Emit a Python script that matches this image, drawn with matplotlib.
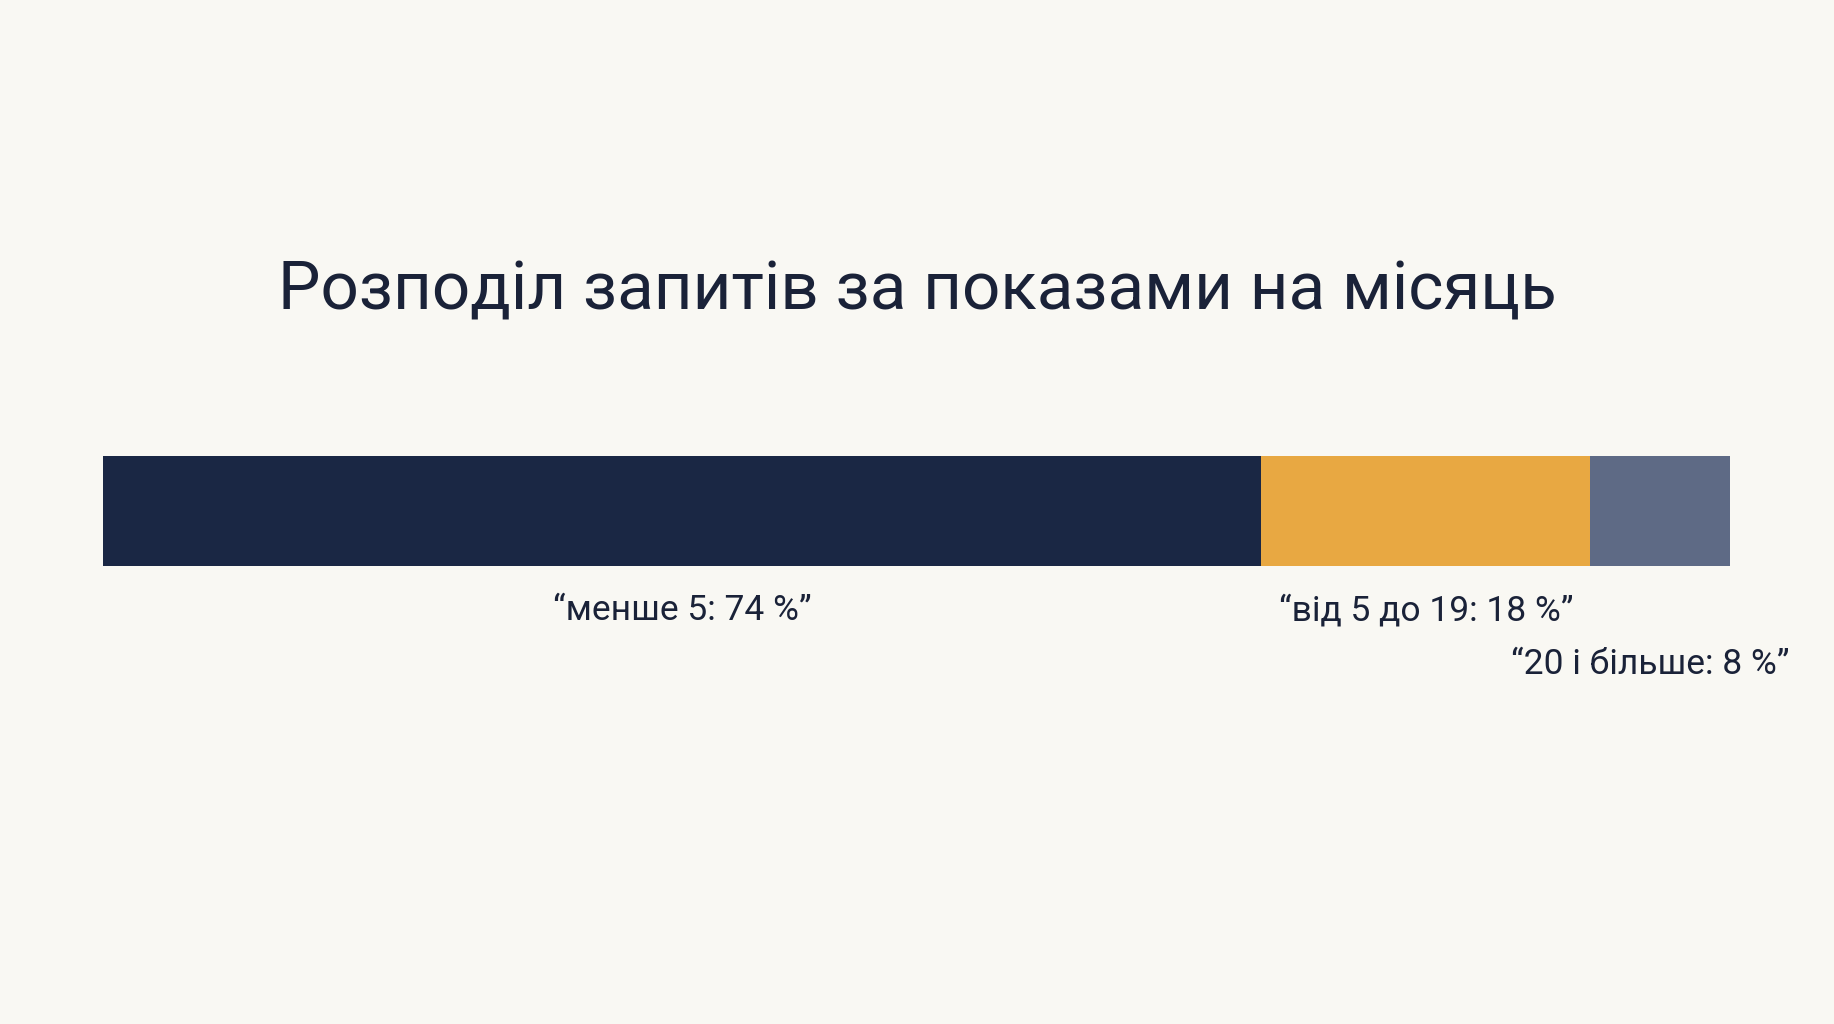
import matplotlib
matplotlib.use("Agg")
import matplotlib.pyplot as plt

plt.rcParams['font.family'] = ['Roboto', 'DejaVu Sans']

title = "Розподіл запитів за показами на місяць"
categories = ["менше 5", "від 5 до 19", "20 і більше"]
shares = [74, 18, 8]                 # values printed in the labels
drawn_widths = [71.2, 20.2, 8.6]     # segment widths as drawn in the picture
colors = ["#1A2744", "#E8A842", "#5E6A85"]
bg = "#F9F8F3"
text_color = "#1A2238"

fig = plt.figure(figsize=(18.34, 10.24), dpi=100, facecolor=bg)
ax = fig.add_axes([103/1834, 1-566/1024, (1730-103)/1834, 110/1024])
ax.set_facecolor(bg)

left = 0
centers = []
for w, c in zip(drawn_widths, colors):
    ax.barh(0, w, left=left, height=1.0, color=c, edgecolor='none')
    centers.append(left + w/2)
    left += w
ax.set_xlim(0, sum(drawn_widths))
ax.set_ylim(-0.5, 0.5)
ax.axis('off')

fig.text(0.5, 1-292/1024, title, ha='center', va='center', fontsize=48.5,
         color=text_color)

label_y = [1-611/1024, 1-611/1024, 1-664/1024]
offsets = [0, 0, -0.6]
for cat, s, cx, ly, off in zip(categories, shares, centers, label_y, offsets):
    xd = ax.transData.transform((cx + off, 0))[0]
    fig.text(xd/fig.bbox.width, ly, f"\u201c{cat}: {s} %\u201d", ha='center', va='center',
             fontsize=25.5, color=text_color)

fig.savefig("out.png", dpi=100, facecolor=bg)
